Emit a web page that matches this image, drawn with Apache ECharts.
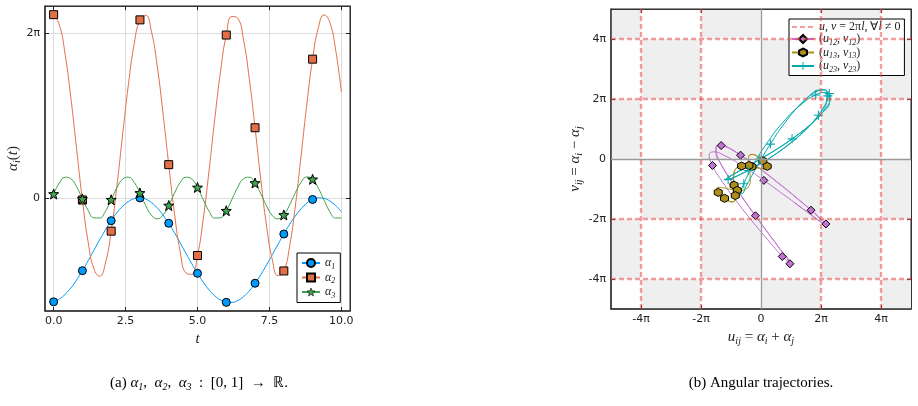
<!DOCTYPE html>
<html>
<head>
<meta charset="utf-8">
<script src="https://cdn.jsdelivr.net/npm/echarts@6/dist/echarts.min.js"></script>
<style>
html, body { margin: 0; padding: 0; background: #fff; }
#chart { width: 918px; height: 406px; }
</style>
</head>
<body>
<div id="chart"></div>
<script>
var PI = Math.PI;

// samples every 0.2 in t
var tStep = 0.2;
var alpha1 = [-3.97, -3.86, -3.68, -3.44, -3.13, -2.78, -2.40, -2.00, -1.60, -1.22,
    -0.87, -0.56, -0.32, -0.14, -0.03, 0.00, -0.05, -0.18, -0.38, -0.65,
    -0.97, -1.33, -1.72, -2.12, -2.51, -2.88, -3.22, -3.51, -3.74, -3.90,
    -3.99, -3.99, -3.92, -3.77, -3.55, -3.26, -2.93, -2.56, -2.17, -1.77,
    -1.38, -1.01, -0.69, -0.42, -0.20, -0.06, 0.00, -0.02, -0.12, -0.29,
    -0.53];
var alpha2 = [7.00, 6.61, 5.48, 3.81, 1.85, -0.08, -1.69, -2.71, -2.99, -2.49,
    -1.27, 0.46, 2.44, 4.34, 5.88, 6.80, 6.97, 6.35, 5.04, 3.24,
    1.27, -0.60, -2.06, -2.87, -2.92, -2.20, -0.80, 1.03, 3.01, 4.83,
    6.22, 6.93, 6.86, 6.03, 4.55, 2.68, 0.70, -1.07, -2.36, -2.97,
    -2.79, -1.86, -0.31, 1.61, 3.58, 5.30, 6.50, 6.99, 6.70, 5.66,
    4.04];
var alpha3 = [0.15, 0.57, 0.79, 0.73, 0.42, -0.04, -0.48, -0.76, -0.77, -0.51,
    -0.07, 0.39, 0.72, 0.79, 0.59, 0.19, -0.29, -0.66, -0.80, -0.66,
    -0.29, 0.18, 0.59, 0.79, 0.72, 0.40, -0.07, -0.50, -0.77, -0.76,
    -0.49, -0.05, 0.41, 0.73, 0.79, 0.57, 0.16, -0.31, -0.67, -0.80,
    -0.65, -0.27, 0.20, 0.60, 0.80, 0.71, 0.37, -0.09, -0.53, -0.77,
    -0.76];
var markerTimes = [0, 1, 2, 3, 4, 5, 6, 7, 8, 9];

var timeTicks = [0, 2.5, 5, 7.5, 10];
var timeTickLabels = ['0.0', '2.5', '5.0', '7.5', '10.0'];
var alphaTicks = [0, 2 * PI];
var alphaTickLabels = ['0', '2π'];
var uvTicks = [-4 * PI, -2 * PI, 0, 2 * PI, 4 * PI];
var uvTickLabels = ['-4π', '-2π', '0', '2π', '4π'];
var wrapLevels = [-4 * PI, -2 * PI, 2 * PI, 4 * PI];
var cellEdges = [-5 * PI, -4 * PI, -2 * PI, 0, 2 * PI, 4 * PI, 5 * PI];

var colors = {
    a1: '#009AFA', a2: '#E36F47', a3: '#3EA44E',
    p12: '#C371D2', p13: '#AC8E18', p23: '#00A9AD'
};

var STAR = 'path://M50,0 L62,33 L98,35 L70,57 L80,92 L50,72 L20,92 L30,57 L2,35 L38,33 Z';
var HEX = 'path://M50,0 L93,25 L93,75 L50,100 L7,75 L7,25 Z';
var PLUS = 'path://M0,44 H100 V56 H0 Z M44,0 H56 V100 H44 Z';

function timeSeries(arr) {
    var out = [];
    for (var i = 0; i < arr.length; i++) out.push([i * tStep, arr[i]]);
    return out;
}
function uvSeries(a, b) {
    var out = [];
    for (var i = 0; i < a.length; i++) out.push([a[i] + b[i], a[i] - b[i]]);
    return out;
}
function isMarker(idx) {
    var t = Math.round(idx * tStep * 1000) / 1000;
    return markerTimes.indexOf(t) >= 0;
}
function markerSize(size) {
    return function (val, params) { return isMarker(params.dataIndex) ? size : 0; };
}

var serif = 'Liberation Serif';
var sans = 'DejaVu Sans';
var mathRich = {
    m: { fontFamily: serif, fontStyle: 'italic', fontSize: 15, lineHeight: 18, color: '#222' },
    n: { fontFamily: serif, fontSize: 15, lineHeight: 18, color: '#222' },
    s: { fontFamily: serif, fontStyle: 'italic', fontSize: 10, lineHeight: 12, verticalAlign: 'bottom', color: '#222' }
};
var legendRich = {
    m: { fontFamily: serif, fontStyle: 'italic', fontSize: 12, lineHeight: 15, color: '#222' },
    n: { fontFamily: serif, fontSize: 12, lineHeight: 15, color: '#222' },
    s: { fontFamily: serif, fontStyle: 'italic', fontSize: 8, lineHeight: 8, verticalAlign: 'bottom', color: '#222' }
};

var legendText = {
    'α1': '{m|α}{s|1}',
    'α2': '{m|α}{s|2}',
    'α3': '{m|α}{s|3}',
    'wrap': '{m|u}{n|, }{m|v}{n| = 2π}{m|l}{n|, ∀}{m|l}{n| ≠ 0}',
    '(u12, v12)': '{n|(}{m|u}{s|12}{n|, }{m|v}{s|12}{n|)}',
    '(u13, v13)': '{n|(}{m|u}{s|13}{n|, }{m|v}{s|13}{n|)}',
    '(u23, v23)': '{n|(}{m|u}{s|23}{n|, }{m|v}{s|23}{n|)}'
};

function axisPair(gridIndex, min, max, ticks, labels, extra) {
    var tick = { show: true, inside: true, length: 4, customValues: ticks, lineStyle: { color: '#222', width: 1 } };
    var main = {
        type: 'value', gridIndex: gridIndex, min: min, max: max,
        axisLine: { show: true, onZero: false, lineStyle: { color: '#333', width: 1.5 } },
        axisTick: tick,
        axisLabel: {
            show: true, customValues: ticks, margin: 5,
            fontFamily: sans, fontSize: 11, color: '#222',
            formatter: function (v) {
                for (var k = 0; k < ticks.length; k++) {
                    if (Math.abs(ticks[k] - v) < 1e-6) return labels[k];
                }
                return '';
            }
        },
        splitLine: { show: false }
    };
    for (var key in extra) main[key] = extra[key];
    var mirror = {
        type: 'value', gridIndex: gridIndex, min: min, max: max,
        axisLine: { show: true, onZero: false, lineStyle: { color: '#333', width: 1 } },
        axisTick: tick,
        axisLabel: { show: false },
        splitLine: { show: false }
    };
    return [main, mirror];
}

// left panel axes
var lx = axisPair(0, -0.3, 10.3, timeTicks, timeTickLabels, {
    position: 'bottom',
    splitLine: { show: true, lineStyle: { color: '#dddddd', width: 1 } },
    name: '{m|t}', nameLocation: 'middle', nameGap: 17, nameTextStyle: { rich: mathRich }
});
lx[1].position = 'top';
var ly = axisPair(0, -4.32, 7.33, alphaTicks, alphaTickLabels, {
    position: 'left',
    splitLine: { show: true, lineStyle: { color: '#dddddd', width: 1 } },
    name: '{m|α}{s|i}{n|(}{m|t}{n|)}', nameLocation: 'middle', nameGap: 23, nameRotate: 90,
    nameTextStyle: { rich: mathRich }
});
ly[1].position = 'right';

// right panel axes
var rx = axisPair(1, -5 * PI, 5 * PI, uvTicks, uvTickLabels, {
    position: 'bottom',
    name: '{m|u}{s|ij}{n| = }{m|α}{s|i}{n| + }{m|α}{s|j}', nameLocation: 'middle', nameGap: 15,
    nameTextStyle: { rich: mathRich }
});
rx[1].position = 'top';
var ry = axisPair(1, -5 * PI, 5 * PI, uvTicks, uvTickLabels, {
    position: 'left',
    name: '{m|v}{s|ij}{n| = }{m|α}{s|i}{n| − }{m|α}{s|j}', nameLocation: 'middle', nameGap: 24, nameRotate: 90,
    nameTextStyle: { rich: mathRich }
});
ry[1].position = 'right';

// checkerboard cells [x0, y0, x1, y1], shaded when column + row index is odd
var cells = [];
for (var i = 0; i < cellEdges.length - 1; i++) {
    for (var k = 0; k < cellEdges.length - 1; k++) {
        if ((i + k) % 2 === 1) {
            cells.push([cellEdges[i], cellEdges[k], cellEdges[i + 1], cellEdges[k + 1]]);
        }
    }
}
var wrapLines = [];
wrapLevels.forEach(function (v) {
    wrapLines.push({ xAxis: v });
    wrapLines.push({ yAxis: v });
});

function leftLine(name, arr, color, symbol, size) {
    return {
        name: name, type: 'line', xAxisIndex: 0, yAxisIndex: 0,
        data: timeSeries(arr), smooth: true, showAllSymbol: true,
        symbol: symbol, symbolSize: markerSize(size),
        lineStyle: { color: color, width: 1 },
        itemStyle: { color: color, borderColor: '#000', borderWidth: 1 },
        emphasis: { disabled: true }
    };
}
function rightLine(name, a, b, color, symbol, size, border) {
    return {
        name: name, type: 'line', xAxisIndex: 2, yAxisIndex: 2,
        data: uvSeries(a, b), smooth: true, showAllSymbol: true,
        symbol: symbol, symbolSize: markerSize(size),
        lineStyle: { color: color, width: 1 },
        itemStyle: { color: color, borderColor: border ? '#000' : color, borderWidth: border ? 1 : 0 },
        emphasis: { disabled: true }
    };
}

var chart = echarts.init(document.getElementById('chart'), null, { renderer: 'canvas' });
var option = {
    animation: false,
    backgroundColor: '#fff',
    grid: [
        { left: 45, top: 6, width: 305, height: 305, show: true, borderColor: '#222', borderWidth: 1, backgroundColor: 'transparent' },
        { left: 611, top: 9, width: 300, height: 300, show: true, borderColor: '#222', borderWidth: 1, backgroundColor: 'transparent' }
    ],
    xAxis: [lx[0], lx[1], rx[0], rx[1]],
    yAxis: [ly[0], ly[1], ry[0], ry[1]],
    legend: [
        {
            data: ['α1', 'α2', { name: 'α3', itemStyle: { borderWidth: 0.6 } }],
            orient: 'vertical', left: 297, top: 253,
            padding: [4, 5, 3, 4], itemGap: 1, itemWidth: 18, itemHeight: 10,
            backgroundColor: '#fff', borderColor: '#000', borderWidth: 1, borderRadius: 0,
            formatter: function (n) { return legendText[n]; },
            textStyle: { rich: legendRich }, selectedMode: false
        },
        {
            data: [
                { name: 'wrap', itemStyle: { color: 'rgba(0,0,0,0)', borderColor: 'rgba(0,0,0,0)' } },
                '(u12, v12)', '(u13, v13)', '(u23, v23)'
            ],
            orient: 'vertical', left: 789, top: 19,
            padding: [2, 4, 2, 2], itemGap: 0, itemWidth: 22, itemHeight: 10,
            backgroundColor: '#fff', borderColor: '#000', borderWidth: 1, borderRadius: 0,
            formatter: function (n) { return legendText[n]; },
            textStyle: { rich: legendRich }, selectedMode: false
        }
    ],
    series: [
        leftLine('α1', alpha1, colors.a1, 'circle', 8),
        leftLine('α2', alpha2, colors.a2, 'rect', 8),
        leftLine('α3', alpha3, colors.a3, STAR, 10),
        {
            name: 'cells', type: 'custom', xAxisIndex: 2, yAxisIndex: 2, z: 0, silent: true,
            data: cells,
            encode: { x: [0, 2], y: [1, 3] },
            renderItem: function (params, api) {
                var p0 = api.coord([api.value(0), api.value(3)]);
                var p1 = api.coord([api.value(2), api.value(1)]);
                return {
                    type: 'rect',
                    shape: { x: p0[0], y: p0[1], width: p1[0] - p0[0], height: p1[1] - p0[1] },
                    style: { fill: '#efefef' }
                };
            }
        },
        {
            name: 'zero', type: 'line', xAxisIndex: 2, yAxisIndex: 2, data: [], z: 1, silent: true,
            markLine: {
                silent: true, symbol: 'none', label: { show: false },
                lineStyle: { color: '#9a9a9a', type: 'solid', width: 1.3 },
                data: [{ xAxis: 0 }, { yAxis: 0 }]
            }
        },
        {
            name: 'wrap', type: 'line', xAxisIndex: 2, yAxisIndex: 2, data: [], z: 1, symbol: 'none',
            lineStyle: { color: 'rgba(235,80,80,0.55)', type: [5, 3], width: 2.4 },
            itemStyle: { color: 'rgba(235,80,80,0.55)' },
            markLine: {
                silent: true, symbol: 'none', label: { show: false },
                lineStyle: { color: 'rgba(235,80,80,0.55)', type: [5, 3], width: 2.4 },
                data: wrapLines
            }
        },
        rightLine('(u12, v12)', alpha1, alpha2, colors.p12, 'diamond', 8, true),
        rightLine('(u13, v13)', alpha1, alpha3, colors.p13, HEX, 8, true),
        rightLine('(u23, v23)', alpha2, alpha3, colors.p23, PLUS, 9, false)
    ],
    graphic: [
        {
            type: 'text', x: 199, y: 383,
            style: {
                text: '{n|(a) }{m|α}{s|1}{n|,  }{m|α}{s|2}{n|,  }{m|α}{s|3}{n|  :  [0, 1]  →  ℝ.}',
                rich: mathRich, align: 'center', verticalAlign: 'middle'
            }
        },
        {
            type: 'text', x: 761, y: 383,
            style: {
                text: '{n|(b) Angular trajectories.}',
                rich: mathRich, align: 'center', verticalAlign: 'middle'
            }
        }
    ]
};
chart.setOption(option);
</script>
</body>
</html>
